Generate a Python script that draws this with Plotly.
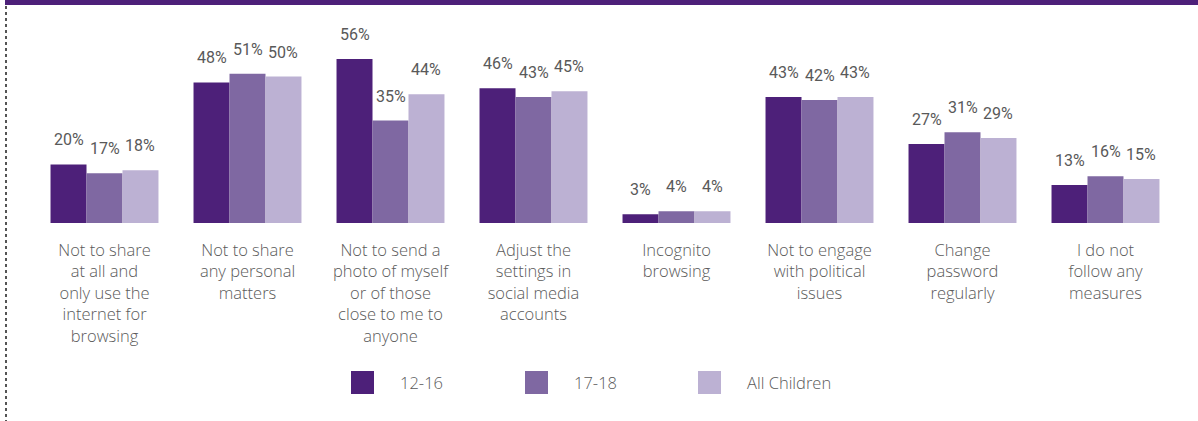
import plotly.graph_objects as go

categories = [
    "Not to share<br>at all and<br>only use the<br>internet for<br>browsing",
    "Not to share<br>any personal<br>matters",
    "Not to send a<br>photo of myself<br>or of those<br>close to me to<br>anyone",
    "Adjust the<br>settings in<br>social media<br>accounts",
    "Incognito<br>browsing",
    "Not to engage<br>with political<br>issues",
    "Change<br>password<br>regularly",
    "I do not<br>follow any<br>measures",
]
series_names = ["12-16", "17-18", "All Children"]
age_12_16 = [20, 48, 56, 46, 3, 43, 27, 13]
age_17_18 = [17, 51, 35, 43, 4, 42, 31, 16]
all_children = [18, 50, 44, 45, 4, 43, 29, 15]
series_values = [age_12_16, age_17_18, all_children]
colors = ["#4d2079", "#7f68a2", "#bcb1d3"]

W, H = 1198, 421
ML, MR, MT, MB = 33, 21, 18, 198
BARGAP = 0.245
LABEL_FONT = dict(family="Open Sans", size=16.5, color="#5a5a5a", weight=300)

fig = go.Figure()
for name, vals, col in zip(series_names, series_values, colors):
    fig.add_trace(go.Bar(x=categories, y=vals, name=name, marker_color=col,
                         marker_line_width=0, showlegend=False, hoverinfo="skip"))

cat_px = (W - ML - MR) / len(categories)
bar_px = cat_px * (1 - BARGAP) / len(series_names)
annotations = []
for i, vals in enumerate(series_values):
    shift = (i - 1) * bar_px
    for c, v in zip(categories, vals):
        annotations.append(dict(x=c, y=v, xref="x", yref="y", text=f"{v}%",
                                showarrow=False, yanchor="bottom", xshift=shift, yshift=13,
                                font=dict(family="Roboto", size=16, color="#595959", weight=400)))

py = lambda ypix: (H - ypix - MB) / (H - MT - MB)
px = lambda xpix: (xpix - ML) / (W - ML - MR)

# manual legend
leg_x = [351, 525, 698]
shapes = []
for i, (name, col) in enumerate(zip(series_names, colors)):
    shapes.append(dict(type="rect", xref="paper", yref="paper",
                       x0=px(leg_x[i]), x1=px(leg_x[i] + 23),
                       y0=py(394), y1=py(371),
                       fillcolor=col, line_width=0))
    annotations.append(dict(xref="paper", yref="paper", x=px(leg_x[i] + 47),
                            y=py(382.5), xanchor="left", yanchor="middle",
                            text=name, showarrow=False, font=LABEL_FONT))

# top band & dotted line
shapes.append(dict(type="rect", xref="paper", yref="paper", x0=px(5), x1=px(W + 5),
                   y0=py(5), y1=py(-5), fillcolor="#4d2079", line_width=0, layer="above"))
shapes.append(dict(type="line", xref="paper", yref="paper", x0=px(6), x1=px(6),
                   y0=py(6), y1=py(H + 5), line=dict(color="#555555", width=2, dash="dot")))

fig.update_layout(
    width=W, height=H,
    margin=dict(l=ML, r=MR, t=MT, b=MB),
    barmode="group", bargap=BARGAP, bargroupgap=0,
    plot_bgcolor="white", paper_bgcolor="white",
    xaxis=dict(showline=False, showgrid=False, ticks="outside", ticklen=12,
               tickcolor="rgba(0,0,0,0)", tickangle=0, tickfont=LABEL_FONT),
    yaxis=dict(range=[0, 70], visible=False),
    annotations=annotations, shapes=shapes,
)
fig.write_html("out.html", config={"displayModeBar": False},
               post_script="document.body.style.margin='0';")
